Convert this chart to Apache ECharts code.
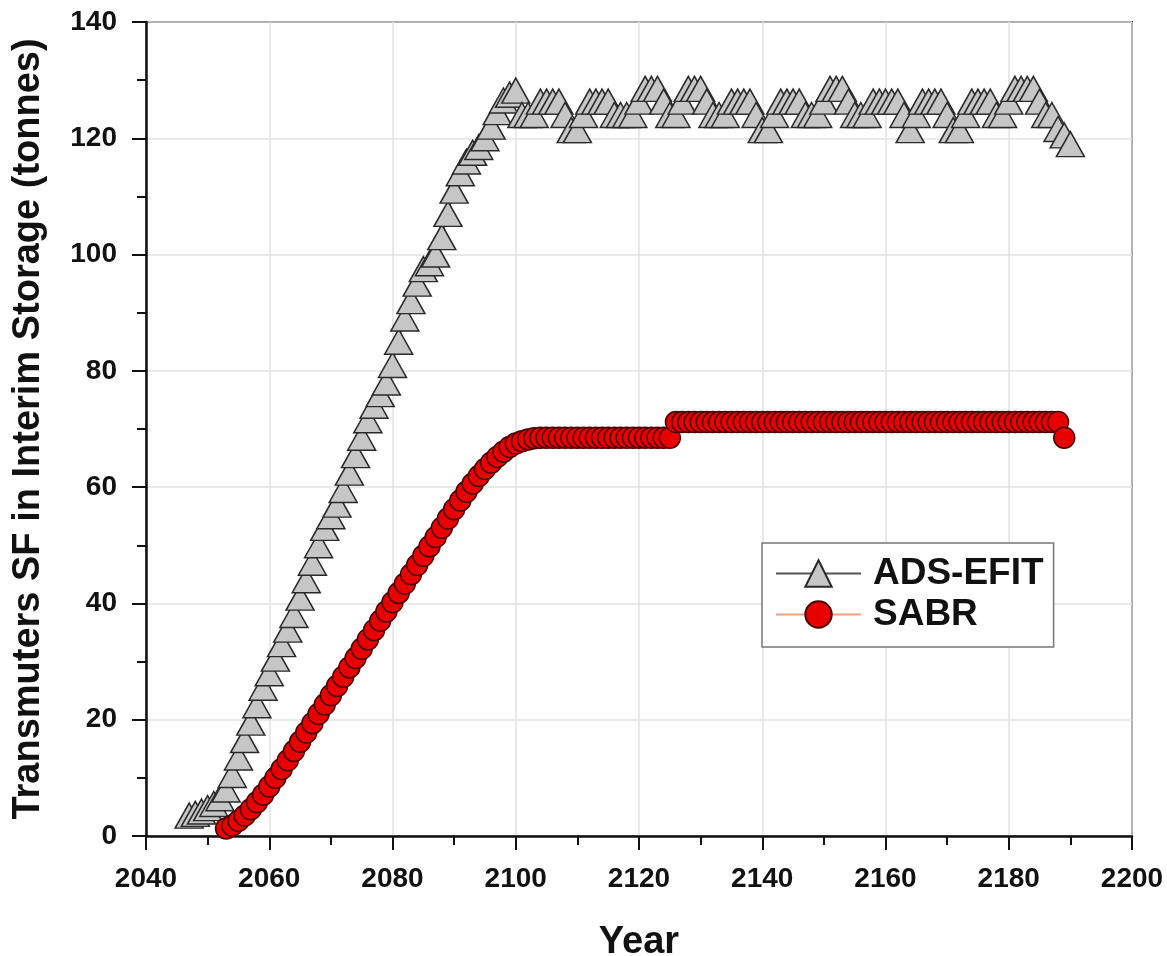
<!DOCTYPE html>
<html>
<head>
<meta charset="utf-8">
<script src="https://cdn.jsdelivr.net/npm/echarts@6/dist/echarts.min.js"></script>
<style>
html,body{margin:0;padding:0;background:#fff;}
#chart{width:1167px;height:956px;}
</style>
</head>
<body>
<div id="chart"></div>
<script>
// ---- data ----
const adsStartYear = 2047;
const adsValues = [
  3.5, 3.8, 4.2, 4.8, 5.5, 6.5, 8, 10.5, 13.5, 16.5,
  19.5, 22.5, 25.5, 28, 30.5, 33, 35.5, 38, 41, 44,
  47, 50, 53, 55, 57, 59.5, 62.5, 65.5, 68.5, 71.5,
  74, 76, 78, 81, 85, 89, 92, 95, 97.5, 98.5,
  100, 103, 107, 111, 114, 116, 117.5, 118.5, 120, 122,
  124.5, 126.5, 127.5, 128.2,
  124, 124, 124,
  126.3, 126.3, 126.3, 126.3,
  124, 121.4, 121.4, 124,
  126.3, 126.3, 126.3, 126.3,
  124, 124, 124, 124,
  126.3, 128.5, 128.5, 128.5, 126.3,
  124, 124,
  126.3, 128.5, 128.5, 128.5, 126.3,
  124, 124, 124,
  126.3, 126.3, 126.3, 126.3,
  124, 121.4, 121.4, 124,
  126.3, 126.3, 126.3, 126.3,
  124, 124, 124,
  126.3, 128.5, 128.5, 128.5, 126.3,
  124, 124, 124,
  126.3, 126.3, 126.3, 126.3, 126.3,
  124, 121.4, 124,
  126.3, 126.3, 126.3, 126.3,
  124, 121.4, 121.4, 124,
  126.3, 126.3, 126.3, 126.3,
  124, 124,
  126.3, 128.5, 128.5, 128.5, 128.5, 126.3,
  124, 124, 121.6, 120.5, 119
];
const sabrStartYear = 2053;
const sabrValues = [
  1.3, 1.8, 2.6, 3.5, 4.6, 5.8, 7.1, 8.5, 10.0, 11.5,
  13.0, 14.6, 16.2, 17.8, 19.4, 21.0, 22.6, 24.2, 25.8, 27.4,
  29.0, 30.6, 32.2, 33.8, 35.4, 37.0, 38.6, 40.2, 41.8, 43.4,
  45.0, 46.6, 48.2, 49.8, 51.4, 53.0, 54.6, 56.2, 57.7, 59.2,
  60.6, 61.9, 63.1, 64.2, 65.2, 66.1, 66.9, 67.5, 67.9, 68.2,
  68.4,
  68.5, 68.5, 68.5, 68.5, 68.5, 68.5, 68.5, 68.5, 68.5, 68.5, 68.5,
  68.5, 68.5, 68.5, 68.5, 68.5, 68.5, 68.5, 68.5, 68.5, 68.5, 68.5,
  71.2, 71.2, 71.2, 71.2, 71.2, 71.2, 71.2, 71.2, 71.2, 71.2,
  71.2, 71.2, 71.2, 71.2, 71.2, 71.2, 71.2, 71.2, 71.2, 71.2,
  71.2, 71.2, 71.2, 71.2, 71.2, 71.2, 71.2, 71.2, 71.2, 71.2,
  71.2, 71.2, 71.2, 71.2, 71.2, 71.2, 71.2, 71.2, 71.2, 71.2,
  71.2, 71.2, 71.2, 71.2, 71.2, 71.2, 71.2, 71.2, 71.2, 71.2,
  71.2, 71.2, 71.2, 71.2, 71.2, 71.2, 71.2, 71.2, 71.2, 71.2,
  71.2, 71.2, 71.2,
  68.5
];
const seriesNames = ['ADS-EFIT', 'SABR'];
const xAxisName = 'Year';
const yAxisName = 'Transmuters SF in Interim Storage (tonnes)';

const toPairs = (start, vals) => vals.map((v, i) => [start + i, v]);

const FONT = '"Liberation Sans", Arial, sans-serif';
const chart = echarts.init(document.getElementById('chart'), null, {renderer: 'canvas'});

const axisCommon = {
  axisLine: {show: true, onZero: false, lineStyle: {color: '#111', width: 2.5}},
  axisTick: {show: true, inside: false, length: 14, lineStyle: {color: '#111', width: 2}},
  minorTick: {show: true, splitNumber: 2, length: 9, lineStyle: {color: '#111', width: 2}},
  splitLine: {show: true, lineStyle: {color: '#e2e2e2', width: 1.5}},
  minorSplitLine: {show: false},
  nameTextStyle: {fontFamily: FONT, fontWeight: 'bold', fontSize: 38, color: '#111'}
};

chart.setOption({
  animation: false,
  backgroundColor: '#fff',
  grid: {left: 146, right: 35, top: 22, bottom: 120, outerBoundsMode: 'none', containLabel: false,
    show: true, borderColor: '#222', borderWidth: 2, backgroundColor: 'transparent'},
  xAxis: Object.assign({}, axisCommon, {
    type: 'value', min: 2040, max: 2200, interval: 20,
    name: xAxisName, nameLocation: 'middle', nameGap: 88,
    axisLabel: {fontFamily: FONT, fontWeight: 'bold', fontSize: 28, color: '#111', margin: 29,
      formatter: (v) => String(v)}
  }),
  yAxis: Object.assign({}, axisCommon, {
    type: 'value', min: 0, max: 140, interval: 20,
    name: yAxisName, nameLocation: 'middle', nameGap: 98,
    axisLabel: {fontFamily: FONT, fontWeight: 'bold', fontSize: 28, color: '#111', margin: 29,
      formatter: (v) => String(v)}
  }),
  legend: {
    orient: 'vertical', left: 762, top: 543,
    padding: [12, 10, 14, 13], itemGap: 4,
    itemWidth: 85, itemHeight: 33,
    backgroundColor: '#fff', borderColor: '#777', borderWidth: 1.5, borderRadius: 0,
    textStyle: {fontFamily: FONT, fontWeight: 'bold', fontSize: 37, color: '#111', padding: [0, 0, 0, 7], lineHeight: 36},
    data: seriesNames
  },
  series: [
    {
      name: seriesNames[0], type: 'line', data: toPairs(adsStartYear, adsValues),
      symbol: 'triangle', symbolSize: [28, 25], showAllSymbol: true,
      lineStyle: {color: '#555', width: 1},
      itemStyle: {color: '#c6c6c6', borderColor: '#2a2a2a', borderWidth: 1.5},
      z: 2
    },
    {
      name: seriesNames[1], type: 'line', data: toPairs(sabrStartYear, sabrValues),
      symbol: 'circle', symbolSize: 21, showAllSymbol: true,
      lineStyle: {color: '#f2a07e', width: 1},
      itemStyle: {color: '#e80000', borderColor: '#4a0000', borderWidth: 1.5},
      z: 3
    }
  ]
});
</script>
</body>
</html>
